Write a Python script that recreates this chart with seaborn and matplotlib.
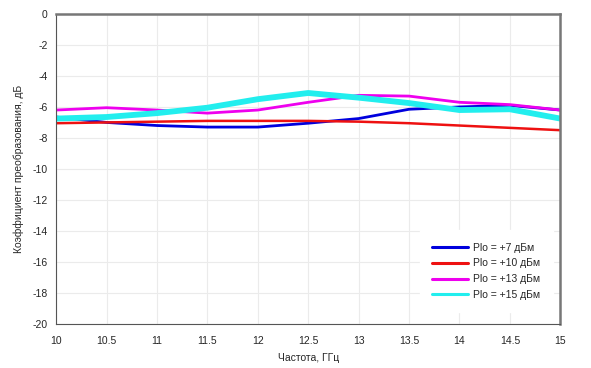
import pandas as pd
import seaborn as sns
import matplotlib.pyplot as plt
from matplotlib.ticker import MultipleLocator

freq = [10, 10.5, 11, 11.5, 12, 12.5, 13, 13.5, 14, 14.5, 15]
plo_7 = [-6.65, -7.0, -7.2, -7.3, -7.3, -7.05, -6.75, -6.15, -6.0, -5.9, -6.2]
plo_10 = [-7.05, -7.0, -6.95, -6.9, -6.9, -6.9, -6.95, -7.05, -7.2, -7.35, -7.5]
plo_13 = [-6.2, -6.05, -6.2, -6.4, -6.2, -5.7, -5.25, -5.3, -5.7, -5.85, -6.2]
plo_15 = [-6.75, -6.65, -6.4, -6.05, -5.5, -5.1, -5.4, -5.75, -6.2, -6.15, -6.75]

labels = ["Plo = +7 дБм", "Plo = +10 дБм", "Plo = +13 дБм", "Plo = +15 дБм"]
colors = ["#0000dd", "#ee1111", "#ee00ee", "#22eeee"]
widths = [2.0, 1.8, 2.0, 4.2]

df = pd.DataFrame({"freq": freq * 4,
                   "gain": plo_7 + plo_10 + plo_13 + plo_15,
                   "series": [l for l in labels for _ in freq]})

sns.set_style("white")
plt.rcParams['font.family'] = ['Liberation Sans', 'DejaVu Sans']
plt.rcParams['axes.unicode_minus'] = False

fig, ax = plt.subplots(figsize=(5.91, 3.68), dpi=100)

for lab, col, lw in zip(labels, colors, widths):
    sns.lineplot(data=df[df["series"] == lab], x="freq", y="gain",
                 color=col, linewidth=lw, label=lab, ax=ax)

ax.set_xlim(10, 15)
ax.set_ylim(-20, 0)
ax.xaxis.set_major_locator(MultipleLocator(0.5))
ax.xaxis.set_minor_locator(MultipleLocator(0.1))
ax.yaxis.set_major_locator(MultipleLocator(2))
ax.yaxis.set_minor_locator(MultipleLocator(1))
ax.set_xticklabels([("%g" % t) for t in ax.get_xticks()])
ax.grid(True, which="major", color="#ebebeb", linewidth=0.8)

ax.tick_params(axis="both", which="major", labelsize=7.5, color="#555555", length=4, width=0.8)
ax.tick_params(axis="x", which="both", direction="in", pad=9)
ax.tick_params(axis="y", which="both", direction="out", pad=2)
ax.tick_params(axis="both", which="minor", length=2.5, color="#555555", width=0.6)

for side in ["left", "bottom"]:
    ax.spines[side].set_color("#555555")
    ax.spines[side].set_linewidth(0.8)
for side in ["top", "right"]:
    ax.spines[side].set_color("#777777")
    ax.spines[side].set_linewidth(1.8)

ax.set_xlabel("Частота, ГГц", fontsize=7.5, labelpad=5)
ax.set_ylabel("Коэффициент преобразования, дБ", fontsize=7.5, labelpad=6)

leg = ax.legend(loc="lower right", fontsize=7.5, frameon=True, fancybox=False,
                facecolor="white", edgecolor="white", framealpha=1.0,
                borderpad=1.2, labelspacing=0.55, handlelength=3.4,
                handletextpad=0.5, bbox_to_anchor=(0.995, 0.02))
for h in leg.get_lines():
    h.set_linewidth(2.2)

fig.subplots_adjust(left=0.095, right=0.948, top=0.962, bottom=0.12)
fig.savefig("out.png", dpi=100)
